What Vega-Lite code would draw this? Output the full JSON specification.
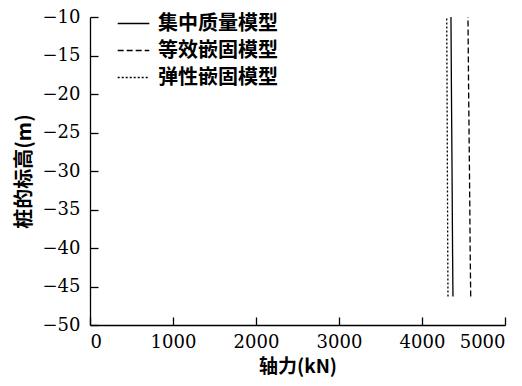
{
  "$schema": "https://vega.github.io/schema/vega-lite/v6.json",
  "width": 415,
  "height": 308,
  "autosize": {"type": "none"},
  "padding": {"left": 90, "top": 17, "right": 17, "bottom": 61},
  "background": "white",
  "config": {"view": {"stroke": null}},
  "data": {
    "values": [
      {"model": "集中质量模型", "x": 4349, "y": -10},
      {"model": "集中质量模型", "x": 4355, "y": -20},
      {"model": "集中质量模型", "x": 4362, "y": -30},
      {"model": "集中质量模型", "x": 4368, "y": -40},
      {"model": "集中质量模型", "x": 4373, "y": -46.3},
      {"model": "等效嵌固模型", "x": 4554, "y": -10},
      {"model": "等效嵌固模型", "x": 4562, "y": -20},
      {"model": "等效嵌固模型", "x": 4572, "y": -30},
      {"model": "等效嵌固模型", "x": 4580, "y": -40},
      {"model": "等效嵌固模型", "x": 4587, "y": -46.3},
      {"model": "弹性嵌固模型", "x": 4298, "y": -10},
      {"model": "弹性嵌固模型", "x": 4302, "y": -20},
      {"model": "弹性嵌固模型", "x": 4306, "y": -30},
      {"model": "弹性嵌固模型", "x": 4310, "y": -40},
      {"model": "弹性嵌固模型", "x": 4313, "y": -46.3}
    ]
  },
  "mark": {"type": "line", "color": "black", "strokeWidth": 1.3},
  "encoding": {
    "x": {
      "field": "x", "type": "quantitative",
      "scale": {"domain": [0, 5000], "nice": false},
      "axis": {
        "values": [0, 1000, 2000, 3000, 4000, 5000], "format": "d", "title": "轴力(kN)",
        "grid": false, "domainColor": "black", "domainWidth": 1.3, "tickColor": "black", "tickWidth": 1.3,
        "tickSize": -8, "labelPadding": 16, "titlePadding": 6,
        "labelFont": "DejaVu Serif", "labelFontSize": 18, "labelColor": "black",
        "titleFont": "Noto Sans CJK SC", "titleFontSize": 19, "titleFontWeight": "bold", "titleColor": "black"
      }
    },
    "y": {
      "field": "y", "type": "quantitative",
      "scale": {"domain": [-50, -10], "nice": false, "zero": false},
      "axis": {
        "values": [-50, -45, -40, -35, -30, -25, -20, -15, -10], "title": "桩的标高(m)",
        "grid": false, "domainColor": "black", "domainWidth": 1.3, "tickColor": "black", "tickWidth": 1.3,
        "tickSize": -8, "labelPadding": 18, "titlePadding": 8,
        "labelFont": "DejaVu Serif", "labelFontSize": 18, "labelColor": "black",
        "titleFont": "Noto Sans CJK SC", "titleFontSize": 20, "titleFontWeight": "bold", "titleColor": "black"
      }
    },
    "strokeDash": {
      "field": "model", "type": "nominal",
      "scale": {"domain": ["集中质量模型", "等效嵌固模型", "弹性嵌固模型"], "range": [[1, 0], [6, 3], [2, 2]]},
      "legend": {
        "orient": "none", "legendX": 27, "legendY": -10,
        "title": null,
        "symbolType": "stroke", "symbolSize": 1000, "symbolStrokeColor": "black", "symbolStrokeWidth": 1.3,
        "labelFont": "Noto Sans CJK SC", "labelFontSize": 20, "labelFontWeight": "bold", "labelColor": "black",
        "rowPadding": -6, "labelOffset": 8
      }
    },
    "order": {"field": "y", "type": "quantitative"}
  }
}
